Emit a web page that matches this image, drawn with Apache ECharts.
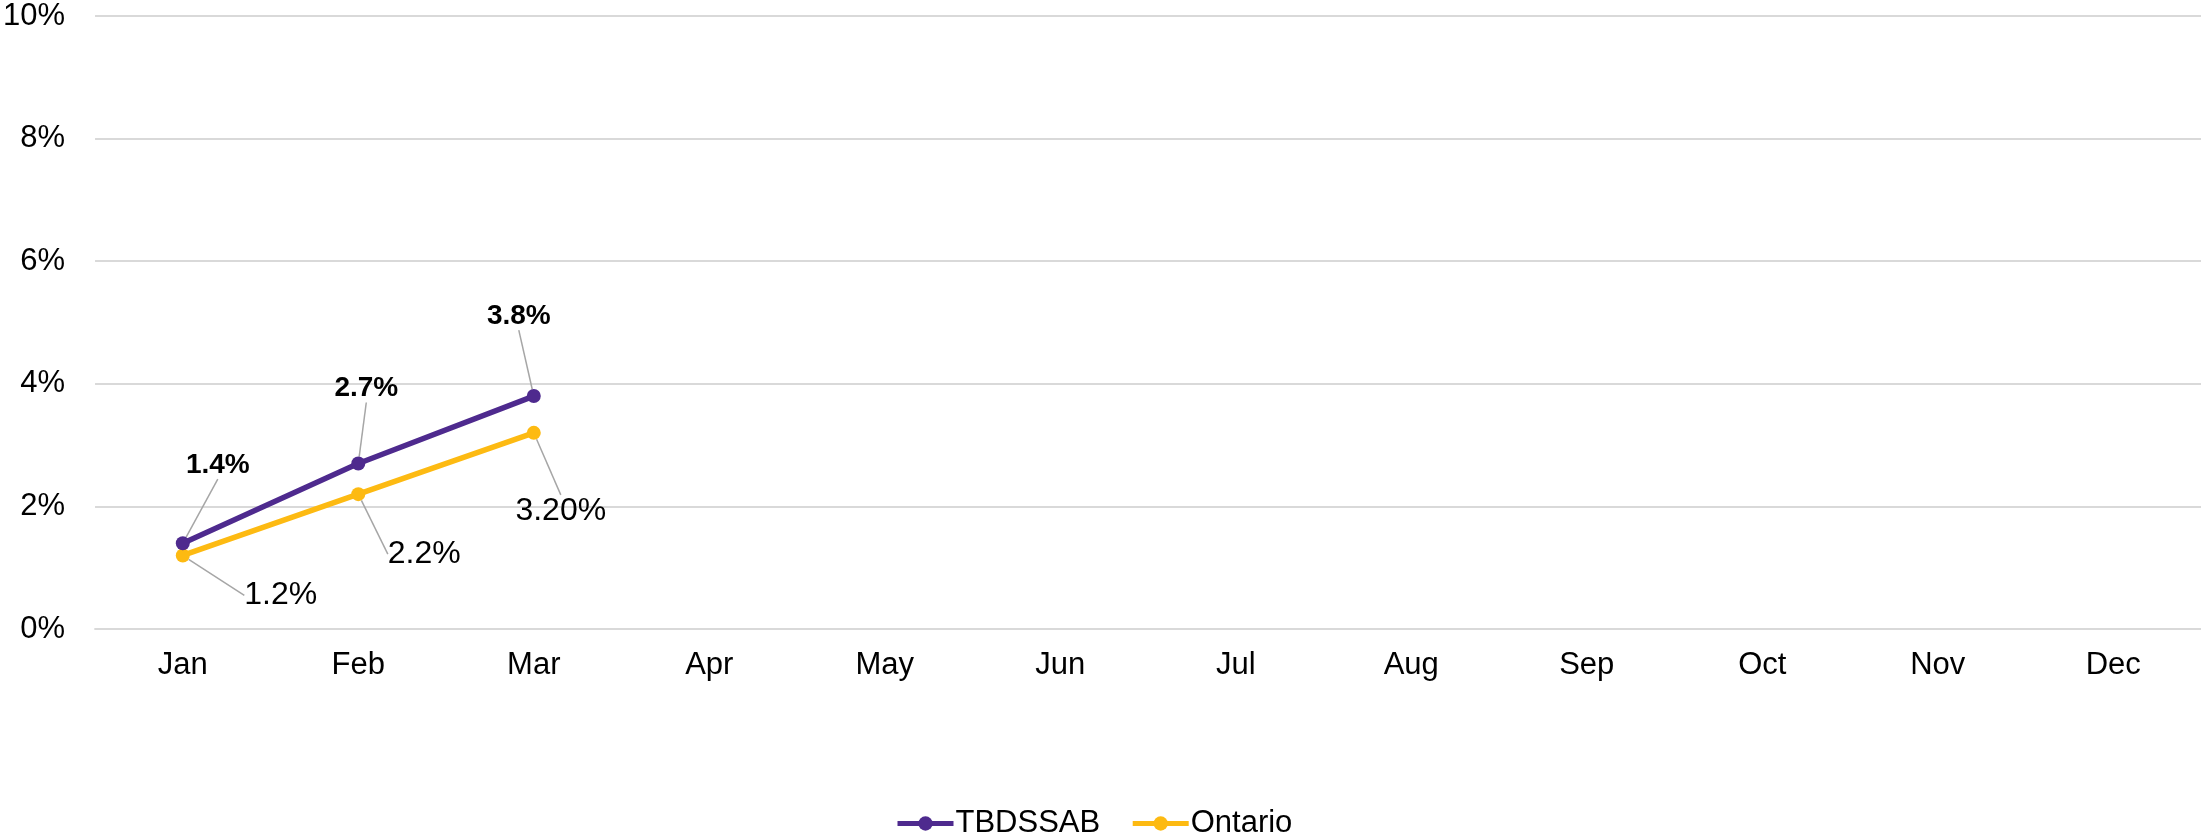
<!DOCTYPE html>
<html>
<head>
<meta charset="utf-8">
<script src="https://cdn.jsdelivr.net/npm/echarts@6/dist/echarts.min.js"></script>
<style>
    html, body { margin: 0; padding: 0; background: #fff; }
    #chart { width: 2201px; height: 836px; }
</style>
</head>
<body>
<div id="chart"></div>
<script>
    // data
    var months = ['Jan', 'Feb', 'Mar', 'Apr', 'May', 'Jun', 'Jul', 'Aug', 'Sep', 'Oct', 'Nov', 'Dec'];
    var tbdssab = [1.4, 2.7, 3.8, null, null, null, null, null, null, null, null, null];
    var ontario = [1.2, 2.2, 3.2, null, null, null, null, null, null, null, null, null];
    var tbdssabLabels = ['1.4%', '2.7%', '3.8%'];
    var ontarioLabels = ['1.2%', '2.2%', '3.20%'];

    var font = 'Liberation Sans, Arial, sans-serif';
    var purple = '#4E2A8E';
    var yellow = '#FDBA12';

    // label offsets (callouts)
    var tOffsets = [[35, -78], [8, -75], [-15, -80]];
    var oOffsets = [[98, 40], [66, 60], [27, 78]];

    var myChart = echarts.init(document.getElementById('chart'));

    var option = {
        animation: false,
        grid: { left: 95, right: 0, top: 16, bottom: 207 },
        legend: {
            top: 803,
            left: 890,
            itemWidth: 56,
            itemHeight: 18,
            itemGap: 30,
            lineStyle: { width: 5 },
            textStyle: { fontFamily: font, fontSize: 31, color: '#000', padding: [0, 0, 0, -3] },
            data: ['TBDSSAB', 'Ontario']
        },
        xAxis: {
            type: 'category',
            data: months,
            boundaryGap: true,
            axisLine: { lineStyle: { color: '#d9d9d9', width: 2 } },
            axisTick: { show: false },
            axisLabel: { color: '#000', fontFamily: font, fontSize: 31, margin: 21 }
        },
        yAxis: {
            type: 'value',
            min: 0,
            max: 10,
            interval: 2,
            axisLine: { show: false },
            axisTick: { show: false },
            splitLine: { lineStyle: { color: '#d9d9d9', width: 2 } },
            axisLabel: {
                color: '#000', fontFamily: font, fontSize: 31, margin: 30,
                formatter: function (v) { return v + '%'; }
            }
        },
        series: [
            {
                name: 'TBDSSAB',
                type: 'line',
                data: tbdssab,
                symbol: 'circle',
                symbolSize: 14,
                lineStyle: { color: purple, width: 5.5 },
                itemStyle: { color: purple },
                z: 3,
                label: {
                    show: true,
                    position: 'inside',
                    fontFamily: font,
                    fontSize: 28,
                    fontWeight: 'bold',
                    color: '#000',
                    formatter: function (p) { return tbdssabLabels[p.dataIndex]; }
                },
                labelLine: { show: true, lineStyle: { color: '#a6a6a6', width: 1.5 } },
                labelLayout: function (p) {
                    var o = tOffsets[p.dataIndex] || [0, 0];
                    return { dx: o[0], dy: o[1] };
                }
            },
            {
                name: 'Ontario',
                type: 'line',
                data: ontario,
                symbol: 'circle',
                symbolSize: 14,
                lineStyle: { color: yellow, width: 5.5 },
                itemStyle: { color: yellow },
                z: 2,
                label: {
                    show: true,
                    position: 'inside',
                    fontFamily: font,
                    fontSize: 32,
                    color: '#000',
                    formatter: function (p) { return ontarioLabels[p.dataIndex]; }
                },
                labelLine: { show: true, lineStyle: { color: '#a6a6a6', width: 1.5 } },
                labelLayout: function (p) {
                    var o = oOffsets[p.dataIndex] || [0, 0];
                    return { dx: o[0], dy: o[1] };
                }
            }
        ]
    };

    myChart.setOption(option);
    window.addEventListener('resize', function () { myChart.resize(); });
</script>
</body>
</html>
